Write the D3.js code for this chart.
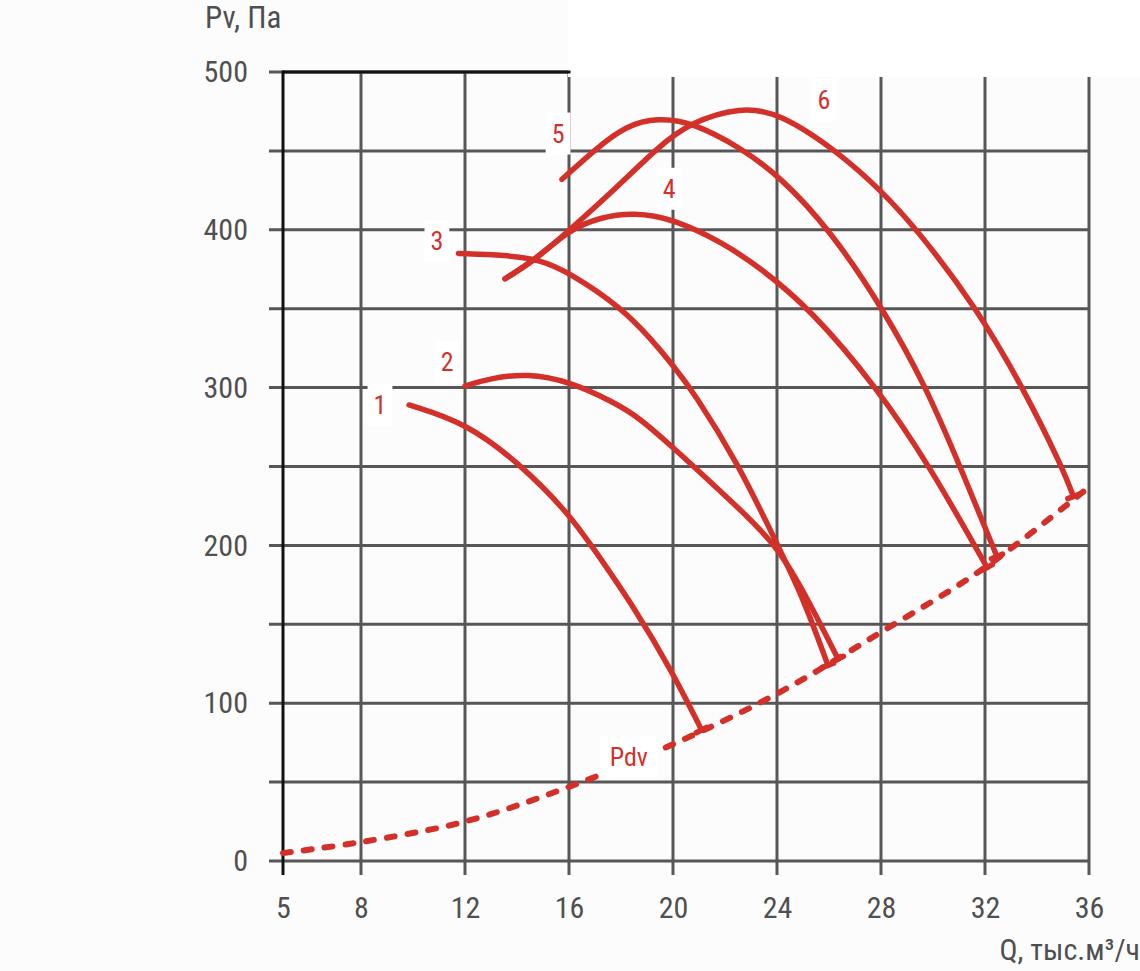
<!DOCTYPE html>
<html>
<head>
<meta charset="utf-8">
<script src="https://cdn.jsdelivr.net/npm/d3@7"></script>
<style>
    body { margin: 0; background: #fcfcfc; }
    text { font-family: "Roboto Condensed", "Liberation Sans Narrow", "DejaVu Sans Condensed", sans-serif; }
</style>
</head>
<body>
<script>
// axes
const xTicks = [5, 8, 12, 16, 20, 24, 28, 32, 36];
const yTicks = [0, 100, 200, 300, 400, 500];
const yGrid = [0, 50, 100, 150, 200, 250, 300, 350, 400, 450, 500];

// dynamic pressure line (Pdv)
const pdvQ = [5, 8, 12, 16, 20, 24, 28, 32, 36];
const pdvP = [5, 12, 25, 47, 74, 106, 145, 186, 237];

// fan curves, Q in thousand m3/h, Pv in Pa
const c1Q = [9.85, 12.0, 14.1, 16.0, 16.9, 18.5, 20.0, 21.1];
const c1P = [289, 278, 252, 220, 199, 161, 119, 83];
const c2Q = [12.0, 13.0, 14.4, 16.0, 17.7, 18.7, 20.0, 20.8, 22.5, 24.0, 25.15, 26.35];
const c2P = [301, 306, 309, 304, 291, 281, 262, 250, 224, 200, 167, 128];
const c3Q = [11.75, 13.6, 14.9, 16.0, 18.0, 19.2, 20.0, 20.8, 22.5, 24.0, 25.0, 25.96];
const c3P = [385, 384, 381, 373, 351, 330, 314, 297, 252, 201, 167, 124];
const c4Q = [13.54, 14.7, 16.0, 17.2, 18.5, 20.0, 21.9, 23.35, 25.27, 27.85, 29.88, 32.08];
const c4P = [369, 381, 400, 408, 411, 407, 392, 376, 350, 300, 250, 186];
const c5Q = [15.73, 17.08, 18.2, 19.4, 20.77, 22.6, 24.1, 26.04, 28.08, 29.75, 31.04, 32.46];
const c5P = [432, 452, 466, 471, 468, 452, 434, 400, 350, 300, 250, 193];
const c6Q = [13.54, 14.7, 15.9, 17.85, 19.4, 20.65, 22.6, 24.1, 26.3, 28.0, 29.4, 31.7, 33.46, 34.96, 35.4];
const c6P = [369, 381, 398, 427, 452, 468, 478, 474, 450, 425, 400, 350, 300, 250, 231];

const curveNames = ["1", "2", "3", "4", "5", "6"];
const labelQ = [8.73, 11.31, 10.92, 19.85, 15.58, 25.8];
const labelP = [289, 316, 393, 426, 461, 482];

const RED = "#d3302a";
const GRID = "#575757";

const width = 1140, height = 971;
const x = d3.scaleLinear().domain([5, 36]).range([283, 1089]);
const y = d3.scaleLinear().domain([0, 500]).range([861, 72]);

const svg = d3.select("body").append("svg")
    .attr("width", width)
    .attr("height", height);

// grid
svg.append("g").selectAll("line")
    .data(yGrid)
    .join("line")
    .attr("x1", x(5) - 14)
    .attr("x2", x(36) + 1)
    .attr("y1", d => y(d))
    .attr("y2", d => y(d))
    .attr("stroke", GRID)
    .attr("stroke-width", 3);

svg.append("g").selectAll("line")
    .data(xTicks.slice(1))
    .join("line")
    .attr("x1", d => x(d))
    .attr("x2", d => x(d))
    .attr("y1", y(500))
    .attr("y2", y(0) + 14)
    .attr("stroke", GRID)
    .attr("stroke-width", 3);

// white patch top right (as in the original scan)
svg.append("rect")
    .attr("x", x(16) - 1)
    .attr("y", 0)
    .attr("width", width)
    .attr("height", y(500) + 5)
    .attr("fill", "#fff");

// black frame pieces
svg.append("line")
    .attr("x1", x(5)).attr("x2", x(5))
    .attr("y1", y(500) - 1.5).attr("y2", y(0) + 14)
    .attr("stroke", "#111").attr("stroke-width", 3);
svg.append("line")
    .attr("x1", x(5)).attr("x2", x(16) + 1.5)
    .attr("y1", y(500)).attr("y2", y(500))
    .attr("stroke", "#111").attr("stroke-width", 3);

// tick labels
const xAxis = svg.append("g")
    .attr("transform", `translate(0,${y(0)})`)
    .call(d3.axisBottom(x).tickValues(xTicks).tickSize(0).tickPadding(36).tickFormat(d3.format("d")));
const yAxis = svg.append("g")
    .attr("transform", `translate(${x(5)},0)`)
    .call(d3.axisLeft(y).tickValues(yTicks).tickSize(0).tickPadding(35).tickFormat(d3.format("d")));
[xAxis, yAxis].forEach(a => {
    a.select(".domain").remove();
    a.selectAll("text")
        .attr("fill", "#505050")
        .style("font-size", "30px")
        .style("font-family", null);
});

// axis titles
svg.append("text")
    .attr("x", 205).attr("y", 28)
    .attr("fill", "#505050")
    .style("font-size", "31px")
    .text("Pv, Па");
svg.append("text")
    .attr("x", 1140).attr("y", 960)
    .attr("text-anchor", "end")
    .attr("fill", "#505050")
    .style("font-size", "30px")
    .text("Q, тыс.м³/ч");

// Pdv dashed line
const pdvLine = d3.line()
    .x(d => x(d[0]))
    .y(d => y(d[1]))
    .curve(d3.curveCatmullRom.alpha(0.5));

svg.append("path")
    .attr("d", pdvLine(d3.zip(pdvQ, pdvP)))
    .attr("fill", "none")
    .attr("stroke", RED)
    .attr("stroke-width", 6)
    .attr("stroke-linecap", "round")
    .attr("stroke-dasharray", "8 13");

// fan curves
const curves = [[c1Q, c1P], [c2Q, c2P], [c3Q, c3P], [c4Q, c4P], [c5Q, c5P], [c6Q, c6P]];
const line = d3.line()
    .x(d => x(d[0]))
    .y(d => y(d[1]))
    .curve(d3.curveBasis);

const curveG = svg.append("g");
curves.forEach(([q, p]) => {
    const pts = d3.zip(q, p);
    curveG.append("path")
        .attr("d", line(pts))
        .attr("fill", "none")
        .attr("stroke", RED)
        .attr("stroke-width", 5.5)
        .attr("stroke-linecap", "round");

    // short end cap across the curve end
    const n = pts.length;
    const ax = x(pts[n - 2][0]), ay = y(pts[n - 2][1]);
    const bx = x(pts[n - 1][0]), by = y(pts[n - 1][1]);
    const len = Math.hypot(bx - ax, by - ay);
    const nx = -(by - ay) / len, ny = (bx - ax) / len;
    curveG.append("line")
        .attr("x1", bx - nx * 6).attr("y1", by - ny * 6)
        .attr("x2", bx + nx * 6).attr("y2", by + ny * 6)
        .attr("stroke", RED)
        .attr("stroke-width", 5.5)
        .attr("stroke-linecap", "round");
});

// curve labels with white boxes
function addLabel(txt, cx, cy, pad) {
    const g = svg.append("g");
    const t = g.append("text")
        .attr("x", cx).attr("y", cy + 9)
        .attr("text-anchor", "middle")
        .attr("fill", RED)
        .style("font-size", "26px")
        .text(txt);
    const bb = t.node().getBBox();
    g.insert("rect", "text")
        .attr("x", bb.x - pad)
        .attr("y", cy - 21)
        .attr("width", bb.width + pad * 2)
        .attr("height", 42)
        .attr("fill", "#fff");
}

curveNames.forEach((name, i) => addLabel(name, x(labelQ[i]), y(labelP[i]), 6));
addLabel("Pdv", x(18.3), y(66), 10);
</script>
</body>
</html>
